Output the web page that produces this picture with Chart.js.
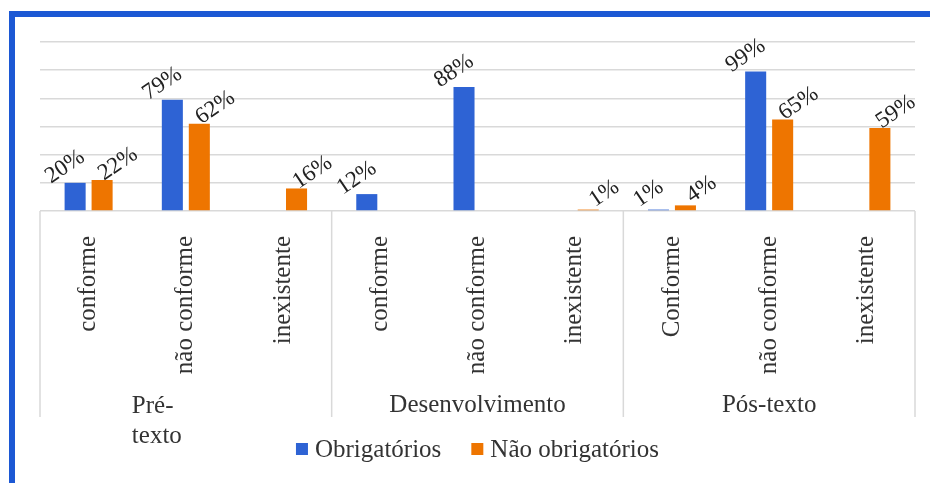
<!DOCTYPE html>
<html>
<head>
<meta charset="utf-8">
<script src="https://cdn.jsdelivr.net/npm/chart.js@4"></script>
<style>
    html, body { margin: 0; padding: 0; background: #fff; }
    #frame {
        position: absolute; left: 9px; top: 11px; width: 940px; height: 468px;
        border-left: 6px solid #1c58d4; border-top: 6px solid #1c58d4;
        border-bottom: 2px solid #a8c2ee;
    }
    #wrap { position: absolute; left: 0; top: 0; width: 930px; height: 483px; }
</style>
</head>
<body>
<div id="frame"></div>
<div id="wrap"><canvas id="chart" width="930" height="483"></canvas></div>
<script>
const categories = ['conforme', 'não conforme', 'inexistente',
                    'conforme', 'não conforme', 'inexistente',
                    'Conforme', 'não conforme', 'inexistente'];
const groupLabels = [['Pré-', 'texto'], ['Desenvolvimento'], ['Pós-texto']];
const seriesNames = ['Obrigatórios', 'Não obrigatórios'];
const obrigatorios = [20, 79, null, 12, 88, null, 1, 99, null];
const naoObrigatorios = [22, 62, 16, null, null, 1, 4, 65, 59];

const serif = '"Liberation Serif", "DejaVu Serif", serif';
const textColor = '#333333';
const lineColor = '#d9d9d9';
const labelDx = [-10, 16];

const groupPlugin = {
    id: 'groups',
    afterDraw(chart) {
        const ctx = chart.ctx;
        const x = chart.scales.x;
        const area = chart.chartArea;
        const step = x.getPixelForValue(1) - x.getPixelForValue(0);
        ctx.save();
        // separators between groups
        ctx.strokeStyle = lineColor;
        ctx.lineWidth = 1.5;
        for (let g = 0; g <= groupLabels.length; g++) {
            const px = g < groupLabels.length
                ? x.getPixelForValue(g * 3) - step / 2
                : x.getPixelForValue(g * 3 - 1) + step / 2;
            ctx.beginPath();
            ctx.moveTo(px, area.bottom);
            ctx.lineTo(px, area.bottom + 206);
            ctx.stroke();
        }
        // group labels
        ctx.fillStyle = textColor;
        ctx.font = '25px ' + serif;
        ctx.textBaseline = 'alphabetic';
        groupLabels.forEach((lines, g) => {
            const cx = x.getPixelForValue(g * 3 + 1);
            lines.forEach((line, i) => {
                if (lines.length > 1) {
                    ctx.textAlign = 'left';
                    ctx.fillText(line, cx - 54, area.bottom + 202 + i * 30);
                } else {
                    ctx.textAlign = 'center';
                    ctx.fillText(line, cx, area.bottom + 201);
                }
            });
        });
        // data labels
        ctx.font = '23px ' + serif;
        ctx.fillStyle = '#222222';
        ctx.textAlign = 'center';
        ctx.textBaseline = 'middle';
        chart.data.datasets.forEach((ds, di) => {
            chart.getDatasetMeta(di).data.forEach((bar, i) => {
                if (ds.data[i] == null) return;
                ctx.save();
                ctx.translate(bar.x + labelDx[di], bar.y - 16);
                ctx.rotate(-34 * Math.PI / 180);
                ctx.fillText(ds.data[i] + '%', 0, 0);
                ctx.restore();
            });
        });
        // legend
        ctx.font = '25px ' + serif;
        ctx.textAlign = 'left';
        ctx.textBaseline = 'alphabetic';
        const widths = seriesNames.map(n => ctx.measureText(n).width);
        const box = 12, gap = 7, spacing = 30;
        const total = widths.reduce((s, w) => s + box + gap + w, 0) + spacing;
        let lx = (area.left + area.right) / 2 - total / 2;
        const ly = 457;
        chart.data.datasets.forEach((ds, di) => {
            ctx.fillStyle = ds.backgroundColor;
            ctx.fillRect(lx, ly - 14, box, box);
            ctx.fillStyle = textColor;
            ctx.fillText(seriesNames[di], lx + box + gap, ly);
            lx += box + gap + widths[di] + spacing;
        });
        ctx.restore();
    }
};

function draw() {
    new Chart(document.getElementById('chart'), {
        type: 'bar',
        data: {
            labels: categories,
            datasets: [
                { label: seriesNames[0], data: obrigatorios, backgroundColor: '#2e63d4' },
                { label: seriesNames[1], data: naoObrigatorios, backgroundColor: '#ee7500' }
            ]
        },
        options: {
            responsive: false,
            animation: false,
            categoryPercentage: 0.555,
            barPercentage: 0.78,
            layout: { padding: { left: 40, right: 15, top: 42, bottom: 0 } },
            plugins: {
                legend: { display: false },
                tooltip: { enabled: false }
            },
            scales: {
                x: {
                    grid: { display: false },
                    border: { display: false },
                    ticks: {
                        minRotation: 90,
                        maxRotation: 90,
                        padding: 17,
                        color: textColor,
                        font: { family: serif, size: 25 }
                    },
                    afterFit(scale) { scale.height = 272; }
                },
                y: {
                    min: 0,
                    max: 120,
                    ticks: { display: false, stepSize: 20 },
                    grid: { color: lineColor, lineWidth: 1.5, drawTicks: false },
                    border: { display: false },
                    afterFit(scale) { scale.width = 0; }
                }
            }
        },
        plugins: [groupPlugin]
    });
}

document.fonts.load('25px "Liberation Serif"').then(draw, draw);
</script>
</body>
</html>
